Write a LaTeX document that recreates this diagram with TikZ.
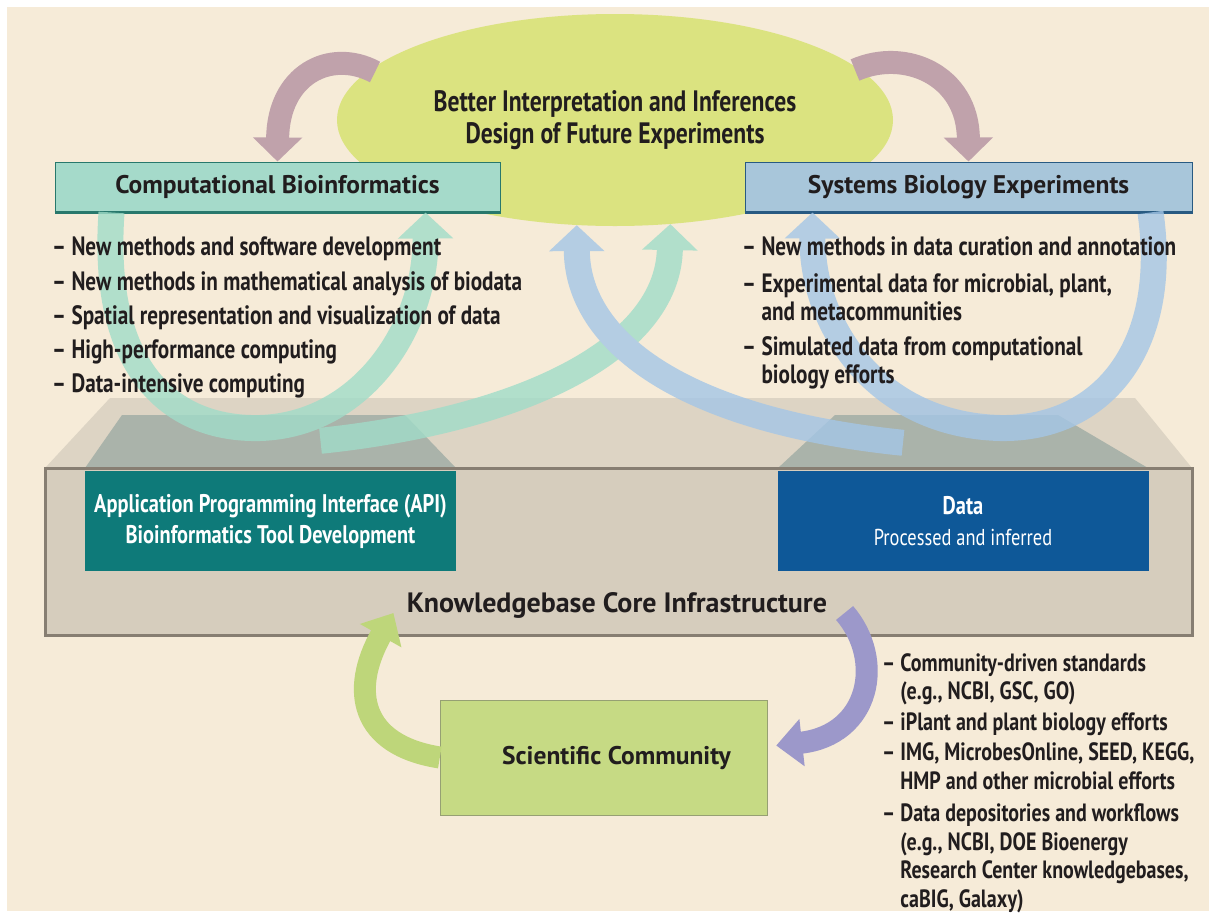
\documentclass[tikz,border=0pt]{standalone}
\usepackage{fontspec}
\setmainfont{PT Sans}[FakeStretch=0.8]
\newfontfamily\widefont{PT Sans}
\usetikzlibrary{shapes.geometric,arrows.meta,calc}

\definecolor{paper}{RGB}{246,235,216}
\definecolor{ink}{RGB}{33,29,30}
\definecolor{goalgreen}{RGB}{219,227,128}
\definecolor{compteal}{RGB}{165,218,202}
\definecolor{compedge}{RGB}{40,120,108}
\definecolor{sysblue}{RGB}{168,198,218}
\definecolor{sysedge}{RGB}{40,90,130}
\definecolor{apiteal}{RGB}{14,122,121}
\definecolor{datablue}{RGB}{14,88,152}
\definecolor{platetop}{RGB}{221,212,196}
\definecolor{platefront}{RGB}{214,205,189}
\definecolor{plateedge}{RGB}{135,126,114}
\definecolor{padgray}{RGB}{170,179,170}
\definecolor{scigreen}{RGB}{198,218,132}
\definecolor{sciedge}{RGB}{150,160,115}
\definecolor{mauve}{RGB}{192,162,171}
\definecolor{flowteal}{RGB}{160,220,200}
\definecolor{flowblue}{RGB}{164,198,230}
\definecolor{flowgreen}{RGB}{190,214,122}
\definecolor{flowpurple}{RGB}{156,152,202}

\tikzset{
    goal-ellipse/.style = {ellipse, fill=goalgreen, minimum width=556pt, minimum height=212pt, inner sep=0pt, align=center, text=ink, font=\bfseries\fontsize{29.5}{32}\selectfont},
    head-box/.style = {rectangle, draw=#1, line width=1pt, minimum height=50pt, text=ink, font=\widefont\bfseries\fontsize{25.5}{30}\selectfont},
    core-box/.style = {rectangle, fill=#1, minimum width=371pt, minimum height=100pt, text=white, align=center, font=\fontsize{25.5}{31}\selectfont},
    list-text/.style = {anchor=north west, align=left, inner sep=0pt, text=ink, font=\bfseries\fontsize{26.5}{34.25}\selectfont},
    swoop-arrow/.style = {draw=#1, line width=23pt, -{Triangle[width=48pt,length=24pt]}},
    loop-arrow/.style = {draw=#1, line width=26pt, -{Triangle[width=54pt,length=26pt]}},
    low-arrow/.style = {draw=#1, line width=22pt, -{Triangle[width=46pt,length=26pt]}},
}

\begin{document}
\begin{tikzpicture}[x=1pt, y=-1pt]
\useasboundingbox (0,0) rectangle (1215,916);
\fill[white] (0,0) rectangle (1215,916);
\fill[paper] (7,7) rectangle (1209,911);

% knowledgebase platform
\fill[platetop] (110,398) -- (1135,398) -- (1192,468) -- (45,468) -- cycle;
\fill[padgray] (122,415) -- (405,415) -- (456,468) -- (85,468) -- cycle;
\fill[padgray] (835,415) -- (1058,415) -- (1148,468) -- (778,468) -- cycle;
\filldraw[fill=platefront, draw=plateedge, line width=3pt] (45,468) rectangle (1192,635);

% main nodes
\node[goal-ellipse] (goal) at (615,120) {Better Interpretation and Inferences\\Design of Future Experiments};
\node[head-box=compedge, fill=compteal, minimum width=445pt] (compbio) at (277.5,187) {Computational Bioinformatics};
\node[head-box=sysedge, fill=sysblue, minimum width=447pt] (sysbio) at (968.5,187) {Systems Biology Experiments};
\draw[compedge, line width=2.5pt] (compbio.south west) -- (compbio.south east);
\draw[sysedge, line width=2.5pt] (sysbio.south west) -- (sysbio.south east);
\node[core-box=apiteal] (api) at (270.5,521) {\bfseries Application Programming Interface (API)\\\bfseries Bioinformatics Tool Development};
\node[core-box=datablue] (data) at (963,521) {\bfseries Data\\\fontsize{23}{31}\selectfont Processed and inferred};
\node[text=ink, font=\widefont\bfseries\fontsize{28}{30}\selectfont] (core) at (617,605) {Knowledgebase Core Infrastructure};
\node[rectangle, draw=sciedge, fill=scigreen, minimum width=327pt, minimum height=115pt, text=ink, font=\widefont\bfseries\fontsize{25.5}{30}\selectfont] (sci) at (603.5,757.5) {\hspace*{26pt}Scientific Community};

% flows between the core and the two sides
\begin{scope}[transparency group, opacity=0.8]
\draw[loop-arrow=flowteal] ($(compbio.south west)+(57,0)$) .. controls (100,380) and (180,430) .. (260,428) .. controls (360,425) and (426,330) .. ($(compbio.south east)+(-75,0)$);
\draw[loop-arrow=flowteal] ($(api.north)+(50,-30)$) .. controls (520,420) and (668,350) .. (goal.-62);
\draw[loop-arrow=flowblue] ($(data.north)+(-60,-28)$) .. controls (680,420) and (577,340) .. (goal.-110);
\draw[loop-arrow=flowblue] ($(sysbio.south east)+(-42,0)$) .. controls (1170,350) and (1100,430) .. (1000,428) .. controls (880,425) and (812,330) .. ($(sysbio.south west)+(68,0)$);
\end{scope}

% feedback from the goal
\draw[swoop-arrow=mauve] ($(goal.center)+(-240,-48)$) .. controls (330,48) and (278,75) .. (compbio.north);
\draw[swoop-arrow=mauve] ($(goal.center)+(240,-50)$) .. controls (905,48) and (968,75) .. (sysbio.north);

% community loop
\draw[low-arrow=flowgreen] (sci.west) .. controls (360,745) and (350,690) .. ($(core.west)+(-10,8)$);
\draw[low-arrow=flowpurple] ($(core.east)+(14,8)$) .. controls (885,660) and (870,735) .. ($(sci.east)+(9,-12)$);

% lists
\node[list-text] (compbio-list) at (52,237) {– New methods and software development\\– New methods in mathematical analysis of biodata\\– Spatial representation and visualization of data\\– High-performance computing\\– Data-intensive computing};
\node[list-text, font=\bfseries\fontsize{26.5}{28}\selectfont] (sysbio-list) at (742,236) {– New methods in data curation and annotation\\[9pt]– Experimental data for microbial, plant,\\\hphantom{– }and metacommunities\\[7pt]– Simulated data from computational\\\hphantom{– }biology efforts};
\node[list-text, font=\bfseries\fontsize{25}{28.5}\selectfont] (sci-list) at (882,653) {– Community-driven standards\\\hphantom{– }(e.g., NCBI, GSC, GO)\\[2pt]– iPlant and plant biology efforts\\[2pt]– IMG, MicrobesOnline, SEED, KEGG,\\\hphantom{– }HMP and other microbial efforts\\[4pt]– Data depositories and workflows\\\hphantom{– }(e.g., NCBI, DOE Bioenergy\\\hphantom{– }Research Center knowledgebases,\\\hphantom{– }caBIG, Galaxy)};
\end{tikzpicture}
\end{document}
